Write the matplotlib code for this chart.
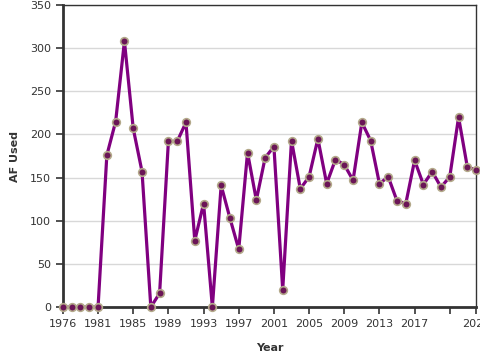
import matplotlib
matplotlib.use("Agg")
import matplotlib.pyplot as plt

# yearly AF used (one year missing near the start, axis is ordinal)
years = [1976, 1978, 1979, 1980, 1981] + list(range(1982, 2025))
af_used = [0, 0, 0, 0, 0,
           176, 215, 308, 207, 157, 0, 16, 192, 192, 214,
           77, 120, 0, 141, 103, 67, 179, 124, 173, 186,
           20, 193, 137, 151, 195, 143, 171, 165, 147, 214,
           193, 143, 151, 123, 120, 170, 142, 157, 139, 151,
           220, 162, 159]
y_ticks = [0, 50, 100, 150, 200, 250, 300, 350]

pos = list(range(len(years)))

fig = plt.figure(figsize=(4.8, 3.6), dpi=100)
ax = fig.add_axes([0.131, 0.147, 0.861, 0.839])

ax.plot(pos, af_used, color="#800080", linewidth=2.3, zorder=3,
        marker="o", markersize=5.5, markerfacecolor="#6b1557",
        markeredgecolor="#b3a98a", markeredgewidth=1.2, clip_on=False)

ax.set_xlim(0, len(years) - 1)
ax.set_ylim(0, 350)
ax.set_yticks(y_ticks)
ax.grid(axis="y", color="#d8d8d8", linewidth=1)
ax.set_axisbelow(True)

tick_pos = list(range(0, len(years), 4)) + [len(years) - 1]
tick_lab = [str(years[i]) for i in tick_pos]
tick_lab[-2] = ""  # 2021 label hidden by crowding
ax.set_xticks(tick_pos)
ax.set_xticklabels(tick_lab)

ax.tick_params(colors="#333333", labelsize=8, length=5, width=1.2)
for s in ["left", "bottom"]:
    ax.spines[s].set_linewidth(2)
    ax.spines[s].set_color("#333333")
for s in ["top", "right"]:
    ax.spines[s].set_linewidth(1)
    ax.spines[s].set_color("#333333")

ax.set_xlabel("Year", fontsize=8, fontweight="bold", color="#333333", labelpad=10)
ax.set_ylabel("AF Used", fontsize=8, fontweight="bold", color="#333333", labelpad=7)

fig.savefig("out.png", dpi=100)
